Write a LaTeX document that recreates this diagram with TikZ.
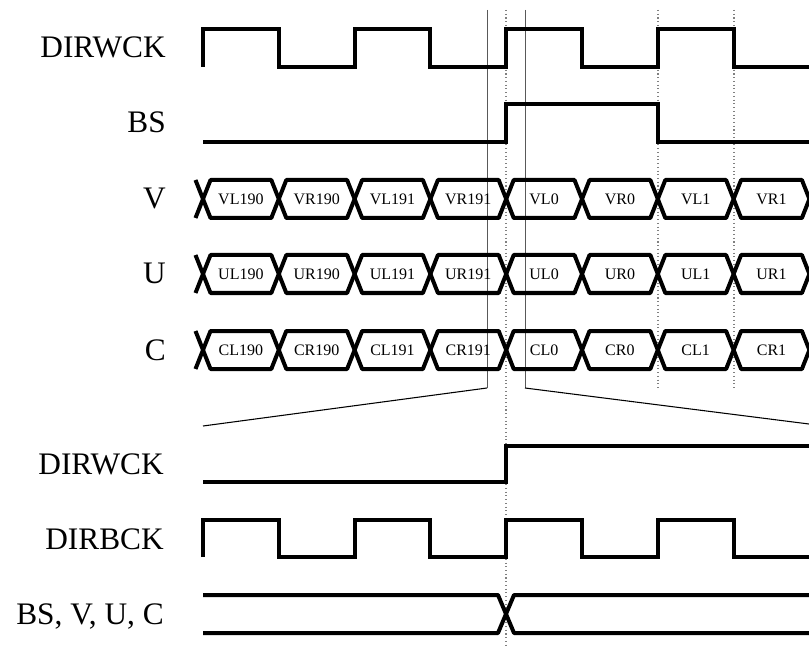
\documentclass[tikz,border=0pt]{standalone}
\usepackage{fontspec}
\setmainfont{Liberation Serif}
\begin{document}
\begin{tikzpicture}[x=0.75pt,y=-0.75pt,
	sinal/.style={line width=3pt},
	barra/.style={line width=3pt, line join=round},
	guia/.style={gray!70!black, line width=0.7pt},
	zoomlin/.style={black, line width=0.8pt},
	pontos/.style={gray, dotted, line width=0.8pt},
	rotulo/.style={anchor=base east, inner sep=0pt, font=\fontsize{23.5}{28}\selectfont},
	rotbus/.style={anchor=base, inner sep=0pt, font=\fontsize{12}{14}\selectfont}]
	\useasboundingbox (0,0) rectangle (809,648); %Area total
		%Guias verticais
	\draw[guia] (487,10) -- (487,388); %Guia esquerda
	\draw[guia] (525,10) -- (525,388); %Guia direita
	\draw[zoomlin] (487,388) -- (203,426); %Linha de zoom esquerda
	\draw[zoomlin] (525,388) -- (809,424); %Linha de zoom direita
	\draw[pontos] (506,10) -- (506,648); %Pontilhado central
	\draw[pontos] (658,10) -- (658,388);
	\draw[pontos] (734,10) -- (734,388);
		%Rotulos superiores
	\node[rotulo] (lwck) at (166,58) {DIRWCK};
	\node[rotulo] (lbs) at (166,133) {BS};
	\node[rotulo] (lv) at (166,209) {V};
	\node[rotulo] (lu) at (166,284) {U};
	\node[rotulo] (lc) at (166,360) {C};
		%DIRWCK
	\draw[sinal] (203,67) -- (203,29) -- (279,29) -- (279,67) -- (355,67) -- (355,29) -- (430,29) -- (430,67)
		-- (506,67) -- (506,29) -- (582,29) -- (582,67) -- (658,67) -- (658,29) -- (734,29) -- (734,67) -- (809,67);
		%BS
	\draw[sinal] (203,142) -- (506,142) -- (506,104) -- (658,104) -- (658,142) -- (809,142);
		%Barramentos V, U, C
	\foreach \r/\y in {V/199, U/274, C/350}{
		\draw[barra] (195.5,\y-19) -- (203,\y) -- (195.5,\y+19); %Meio cruzamento inicial
		\foreach \k/\t in {0/L190, 1/R190, 2/L191, 3/R191, 4/L0, 5/R0, 6/L1, 7/R1}{
			\pgfmathsetmacro\xa{203+\k*75.8}
			\pgfmathsetmacro\xb{\xa+75.8}
			\draw[barra] (\xa,\y) -- (\xa+7.5,\y-19) -- (\xb-7.5,\y-19) -- (\xb,\y)
				-- (\xb-7.5,\y+19) -- (\xa+7.5,\y+19) -- cycle; %Hexagono
			\node[rotbus] (\r\t) at (\xa+37.9,\y+5.3) {\r\t};
		}
	}
		%Rotulos inferiores
	\node[rotulo] (lwck2) at (164,474) {DIRWCK};
	\node[rotulo] (lbck) at (164,549) {DIRBCK};
	\node[rotulo] (lall) at (164,624) {BS, V, U, C};
		%DIRWCK ampliado
	\draw[sinal] (203,482) -- (506,482) -- (506,446) -- (809,446);
		%DIRBCK
	\draw[sinal] (203,557) -- (203,520) -- (279,520) -- (279,557) -- (355,557) -- (355,520) -- (430,520) -- (430,557)
		-- (506,557) -- (506,520) -- (582,520) -- (582,557) -- (658,557) -- (658,520) -- (734,520) -- (734,557) -- (809,557);
		%BS, V, U, C
	\draw[barra] (203,595) -- (498,595) -- (514,633) -- (809,633);
	\draw[barra] (203,633) -- (498,633) -- (514,595) -- (809,595);
\end{tikzpicture}
\end{document}
